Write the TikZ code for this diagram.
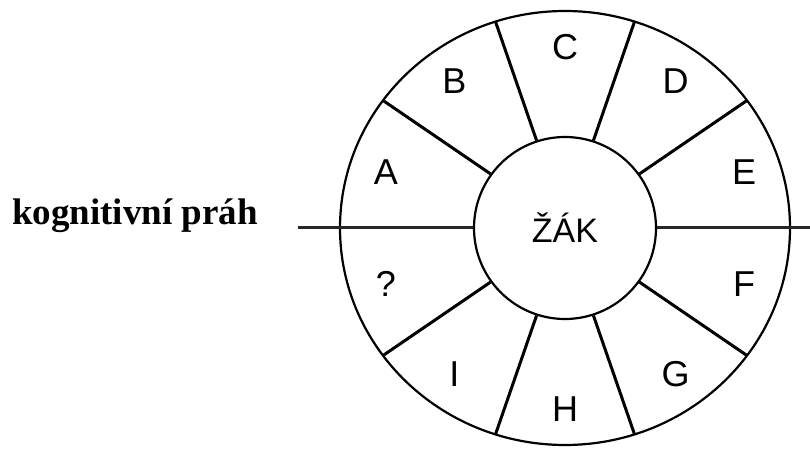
\documentclass[tikz,border=0pt]{standalone}
\usepackage{fontspec}
\setmainfont{Liberation Serif}
\setsansfont{Liberation Sans}
\usetikzlibrary{calc}

\tikzset{
  rim/.style={line width=2.2pt},
  spoke/.style={line width=3pt},
  thr/.style={line width=3pt, black!85},
  sectorlabel/.style={font=\sffamily\fontsize{36}{40}\selectfont, inner sep=0pt}
}

\begin{document}
\begin{tikzpicture}[x=1pt,y=1pt]
\useasboundingbox (0,0) rectangle (810,463);
\node[anchor=base west, inner sep=0pt, font=\bfseries\fontsize{37}{40}\selectfont] (prah) at (12,238) {kognitivní práh};
	\begin{scope}[shift={(565,235)}]
	\pgfmathsetmacro{\rx}{225}
	\pgfmathsetmacro{\ry}{217}
	\draw[rim] (0,0) ellipse ({\rx} and {\ry});
	\node[circle, draw, rim, minimum size=182pt, inner sep=0pt, font=\sffamily\fontsize{34}{38}\selectfont] (zak) at (0,0) {ŽÁK};
	\foreach \a in {36,72,108,144,216,252,288,324} {
      \coordinate (o\a) at ({\rx*cos(\a)},{\ry*sin(\a)});
      \draw[spoke] (zak.\a) -- (o\a);
    }
	\foreach \a/\t [count=\i] in {162/A,126/B,90/C,54/D,18/E,-18/F,-54/G,-90/H,-126/I,-162/?} {
      \node[sectorlabel] (s\i) at ({1.04*181*cos(\a)},{181*sin(\a)}) {\t};
    }
	\coordinate (thrL) at (-267,0);
	\coordinate (thrR) at (245,0);
	\draw[thr] (thrL) -- (zak.west);
	\draw[thr] (zak.east) -- (thrR);
	\end{scope}
\end{tikzpicture}
\end{document}
